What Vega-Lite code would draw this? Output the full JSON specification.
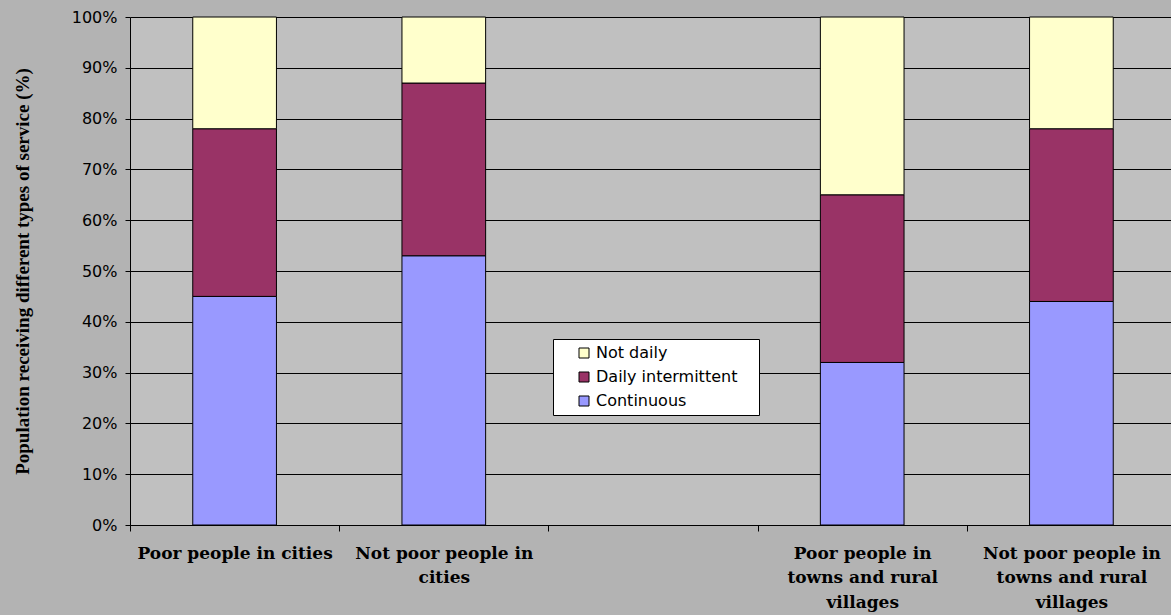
{
  "$schema": "https://vega.github.io/schema/vega-lite/v6.json",
  "width": 1046,
  "height": 508,
  "autosize": {"type": "none"},
  "padding": {"left": 130, "top": 17, "right": -5, "bottom": 90},
  "background": "#b3b3b3",
  "data": {
    "values": [
      {"group": "Poor people in cities", "type": "Continuous", "pct": 45},
      {"group": "Poor people in cities", "type": "Daily intermittent", "pct": 33},
      {"group": "Poor people in cities", "type": "Not daily", "pct": 22},
      {"group": "Not poor people in cities", "type": "Continuous", "pct": 53},
      {"group": "Not poor people in cities", "type": "Daily intermittent", "pct": 34},
      {"group": "Not poor people in cities", "type": "Not daily", "pct": 13},
      {"group": "Poor people in towns and rural villages", "type": "Continuous", "pct": 32},
      {"group": "Poor people in towns and rural villages", "type": "Daily intermittent", "pct": 33},
      {"group": "Poor people in towns and rural villages", "type": "Not daily", "pct": 35},
      {"group": "Not poor people in towns and rural villages", "type": "Continuous", "pct": 44},
      {"group": "Not poor people in towns and rural villages", "type": "Daily intermittent", "pct": 34},
      {"group": "Not poor people in towns and rural villages", "type": "Not daily", "pct": 22}
    ]
  },
  "config": {
    "view": {"fill": "#c0c0c0", "stroke": null},
    "font": "DejaVu Sans"
  },
  "mark": {"type": "bar", "stroke": "black", "strokeWidth": 1},
  "encoding": {
    "x": {
      "field": "group",
      "type": "nominal",
      "scale": {
        "domain": ["Poor people in cities", "Not poor people in cities", "gap", "Poor people in towns and rural villages", "Not poor people in towns and rural villages"],
        "paddingInner": 0.6,
        "paddingOuter": 0.3
      },
      "axis": {
        "title": null,
        "labelAngle": 0,
        "labelFont": "DejaVu Serif",
        "labelFontWeight": "bold",
        "labelFontSize": 17,
        "labelColor": "black",
        "labelLineHeight": 24.5,
        "labelPadding": 14,
        "labelBaseline": "top",
        "labelOffset": 104.6,
        "labelExpr": "datum.value == 'gap' ? '' : datum.value == 'Poor people in cities' ? datum.value : datum.value == 'Not poor people in cities' ? ['Not poor people in', 'cities'] : datum.value == 'Poor people in towns and rural villages' ? ['Poor people in', 'towns and rural', 'villages'] : ['Not poor people in', 'towns and rural', 'villages']",
        "labelLimit": 300,
        "tickOffset": -104.6,
        "tickColor": "black",
        "tickSize": 6,
        "domainColor": "black",
        "grid": false
      }
    },
    "y": {
      "field": "pct",
      "type": "quantitative",
      "stack": "normalize",
      "scale": {"domain": [0, 1]},
      "axis": {
        "title": "Population receiving different types of service (%)",
        "titleFont": "Liberation Serif",
        "titleFontWeight": "bold",
        "titleFontSize": 19,
        "titleColor": "black",
        "titlePadding": 39,
        "format": ".0%",
        "values": [0, 0.1, 0.2, 0.3, 0.4, 0.5, 0.6, 0.7, 0.8, 0.9, 1],
        "labelFont": "DejaVu Sans",
        "labelFontSize": 16,
        "labelColor": "black",
        "labelPadding": 8,
        "tickColor": "black",
        "tickSize": 5,
        "domainColor": "black",
        "grid": true,
        "gridColor": "black",
        "gridOpacity": 1
      }
    },
    "color": {
      "field": "type",
      "type": "nominal",
      "scale": {
        "domain": ["Not daily", "Daily intermittent", "Continuous"],
        "range": ["#ffffcc", "#993366", "#9999ff"]
      },
      "legend": {
        "title": "\u00a0",
        "titleOrient": "right",
        "titlePadding": 16,
        "titleFontSize": 16,
        "orient": "none",
        "legendX": 423,
        "legendY": 322,
        "fillColor": "white",
        "strokeColor": "black",
        "padding": 6,
        "symbolType": "square",
        "symbolSize": 100,
        "symbolStrokeColor": "black",
        "symbolStrokeWidth": 1,
        "symbolOffset": 17,
        "labelFont": "DejaVu Sans",
        "labelFontSize": 16,
        "labelColor": "black",
        "labelOffset": 4,
        "rowPadding": 8,
        "labelLimit": 300
      }
    },
    "order": {"field": "type", "sort": "ascending"}
  }
}
